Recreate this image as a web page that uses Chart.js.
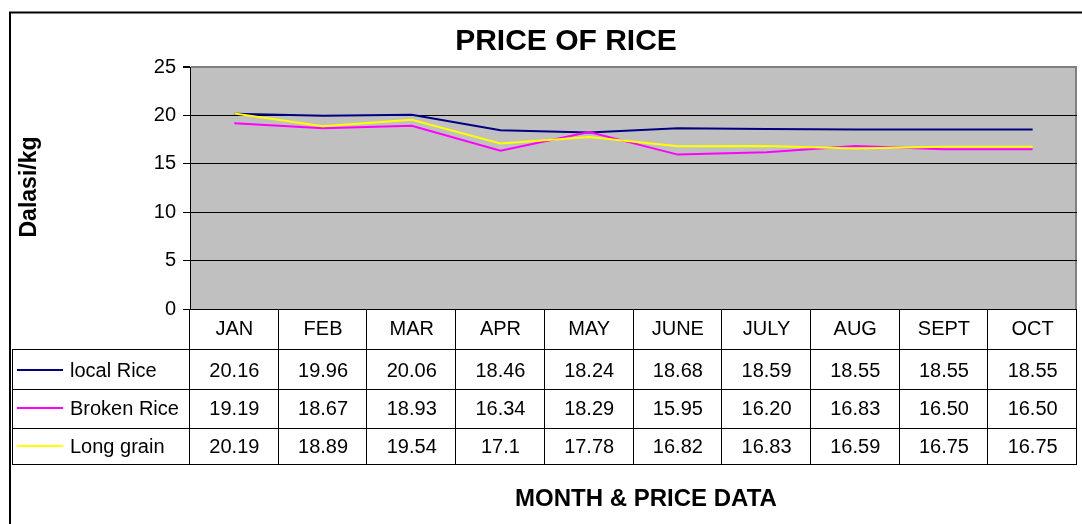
<!DOCTYPE html>
<html>
<head>
<meta charset="utf-8">
<script src="https://cdn.jsdelivr.net/npm/chart.js@4.4.1/dist/chart.umd.min.js"></script>
<style>
  body { margin: 0; background: #fff; }
  canvas { display: block; }
</style>
</head>
<body>
<canvas id="riceChart" width="1082" height="524"></canvas>
<script>
// data, as written in the table under the chart
var months = ['JAN', 'FEB', 'MAR', 'APR', 'MAY', 'JUNE', 'JULY', 'AUG', 'SEPT', 'OCT'];
var localRice = ['20.16', '19.96', '20.06', '18.46', '18.24', '18.68', '18.59', '18.55', '18.55', '18.55'];
var brokenRice = ['19.19', '18.67', '18.93', '16.34', '18.29', '15.95', '16.20', '16.83', '16.50', '16.50'];
var longGrain = ['20.19', '18.89', '19.54', '17.1', '17.78', '16.82', '16.83', '16.59', '16.75', '16.75'];
var yTicks = [0, 5, 10, 15, 20, 25];

var FONT = '"Liberation Sans", Arial, sans-serif';

var seriesList = [
    { name: 'local Rice', values: localRice, color: '#000080' },
    { name: 'Broken Rice', values: brokenRice, color: '#FF00FF' },
    { name: 'Long grain', values: longGrain, color: '#FFFF00' }
];

// plot background, outer frame
var backgroundPlugin = {
    id: 'background',
    beforeDraw: function (chart) {
        var ctx = chart.ctx;
        var a = chart.chartArea;
        ctx.save();
        ctx.fillStyle = '#fff';
        ctx.fillRect(0, 0, chart.width, chart.height);
        ctx.fillStyle = '#C0C0C0';
        ctx.fillRect(a.left, a.top, a.right - a.left, a.bottom - a.top);
        // right border of the plot
        ctx.strokeStyle = '#808080';
        ctx.lineWidth = 2;
        ctx.beginPath();
        ctx.moveTo(a.right - 1, a.top);
        ctx.lineTo(a.right - 1, a.bottom);
        ctx.stroke();
        // outer frame (cut at right and bottom)
        ctx.strokeStyle = '#000';
        ctx.lineWidth = 2;
        ctx.beginPath();
        ctx.moveTo(10, chart.height);
        ctx.lineTo(10, 12.5);
        ctx.lineTo(chart.width, 12.5);
        ctx.stroke();
        ctx.restore();
    }
};

// data table + titles
var tablePlugin = {
    id: 'dataTable',
    afterDraw: function (chart) {
        var ctx = chart.ctx;
        var a = chart.chartArea;
        var xs = chart.scales.x;
        var colW = (a.right - a.left) / months.length;
        var rowLines = [a.bottom, a.bottom + 40, a.bottom + 80, a.bottom + 119, a.bottom + 155];
        var baselines = [a.bottom + 26, a.bottom + 68, a.bottom + 106, a.bottom + 144];
        var tableLeft = 12;

        ctx.save();
        ctx.strokeStyle = '#000';
        ctx.lineWidth = 1;
        ctx.beginPath();
        // horizontal lines
        ctx.moveTo(a.left, rowLines[0] + 0.5);
        ctx.lineTo(a.right, rowLines[0] + 0.5);
        for (var r = 1; r < rowLines.length; r++) {
            ctx.moveTo(tableLeft, rowLines[r] + 0.5);
            ctx.lineTo(a.right, rowLines[r] + 0.5);
        }
        // vertical lines
        for (var c = 0; c <= months.length; c++) {
            var vx = Math.round(a.left + c * colW) - 0.5;
            ctx.moveTo(vx, rowLines[0]);
            ctx.lineTo(vx, rowLines[4] + 1);
        }
        ctx.moveTo(tableLeft + 0.5, rowLines[1]);
        ctx.lineTo(tableLeft + 0.5, rowLines[4] + 1);
        ctx.stroke();

        ctx.fillStyle = '#000';
        ctx.font = '20px ' + FONT;
        ctx.textAlign = 'center';
        ctx.textBaseline = 'alphabetic';
        months.forEach(function (m, i) {
            var cx = xs.getPixelForValue(i);
            ctx.fillText(m, cx, baselines[0]);
            seriesList.forEach(function (s, k) {
                ctx.fillText(s.values[i], cx, baselines[k + 1]);
            });
        });

        // legend keys
        ctx.textAlign = 'left';
        seriesList.forEach(function (s, k) {
            var y = baselines[k + 1] - 7;
            ctx.strokeStyle = s.color;
            ctx.lineWidth = 2;
            ctx.beginPath();
            ctx.moveTo(17, y);
            ctx.lineTo(63, y);
            ctx.stroke();
            ctx.fillText(s.name, 70, baselines[k + 1]);
        });

        // titles
        ctx.textAlign = 'center';
        ctx.font = 'bold 30px ' + FONT;
        ctx.fillText('PRICE OF RICE', 566, 50);
        ctx.font = 'bold 24px ' + FONT;
        ctx.fillText('MONTH & PRICE DATA', 646, 506);
        ctx.translate(36, 187);
        ctx.rotate(-Math.PI / 2);
        ctx.font = 'bold 23px ' + FONT;
        ctx.fillText('Dalasi/kg', 0, 0);
        ctx.restore();
    }
};

var ctx = document.getElementById('riceChart').getContext('2d');
var riceChart = new Chart(ctx, {
    type: 'line',
    data: {
        labels: months,
        datasets: seriesList.map(function (s, k) {
            return {
                label: s.name,
                data: s.values.map(Number),
                borderColor: s.color,
                backgroundColor: s.color,
                borderWidth: 2,
                pointRadius: 0,
                tension: 0,
                order: 2 - k // yellow on top like excel
            };
        })
    },
    options: {
        responsive: false,
        animation: false,
        layout: { padding: { left: 130, top: 67, right: 5, bottom: 215 } },
        plugins: {
            legend: { display: false },
            tooltip: { enabled: false },
            title: { display: false }
        },
        scales: {
            x: {
                type: 'category',
                display: false,
                offset: true
            },
            y: {
                min: 0,
                max: 25,
                afterBuildTicks: function (scale) {
                    scale.ticks = yTicks.map(function (v) { return { value: v }; });
                },
                afterFit: function (scale) { scale.width = 60; },
                border: { color: '#000', width: 1 },
                grid: {
                    color: function (c) {
                        if (c.tick && c.tick.value === 25) return '#808080';
                        return '#000';
                    },
                    lineWidth: function (c) {
                        return c.tick && c.tick.value === 25 ? 2 : 1;
                    },
                    drawTicks: true,
                    tickLength: 7,
                    tickColor: '#000'
                },
                ticks: {
                    color: '#000',
                    padding: 7,
                    font: { family: FONT, size: 20 }
                }
            }
        }
    },
    plugins: [backgroundPlugin, tablePlugin]
});
</script>
</body>
</html>
